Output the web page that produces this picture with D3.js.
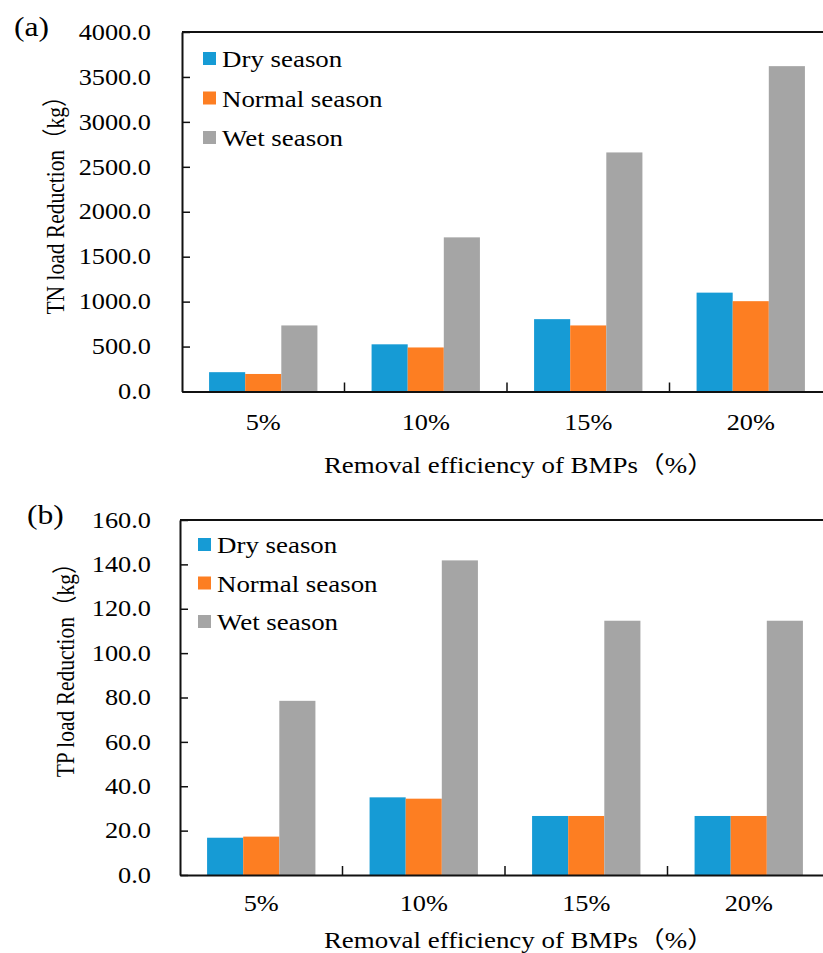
<!DOCTYPE html>
<html>
<head>
<meta charset="utf-8">
<script src="https://cdn.jsdelivr.net/npm/d3@7"></script>
<style>
  body { margin: 0; background: #fff; }
  text { font-family: "Liberation Serif", Tinos, "Times New Roman", Times, serif, "Noto Sans CJK SC"; fill: #000; }
</style>
</head>
<body>
<div id="chart"></div>
<script>
// data
var categories = ["5%", "10%", "15%", "20%"];
var seriesNames = ["Dry season", "Normal season", "Wet season"];
var seriesColors = ["#169BD5", "#FD7E22", "#A5A5A5"];

var tnDry = [215, 525, 805, 1100];
var tnNormal = [195, 490, 735, 1005];
var tnWet = [735, 1715, 2660, 3620];
var tnTicks = [0, 500, 1000, 1500, 2000, 2500, 3000, 3500, 4000];

var tpDry = [16.8, 35.0, 26.6, 26.6];
var tpNormal = [17.3, 34.4, 26.6, 26.6];
var tpWet = [78.5, 141.8, 114.6, 114.6];
var tpTicks = [0, 20, 40, 60, 80, 100, 120, 140, 160];

var svgWidth = 823;
var svgHeight = 953;
// the source figure is a bit wider than tall, so text is stretched sideways
var kx = 1.17;

var svg = d3.select("#chart").append("svg")
  .attr("width", svgWidth)
  .attr("height", svgHeight);

// helper: put a horizontally stretched text at x,y
function wideText(parent, x, y, size, str) {
  return parent.append("text")
    .attr("transform", `translate(${x},${y}) scale(${kx},1)`)
    .attr("font-size", size)
    .text(str);
}

function drawPanel(p) {
  var g = svg.append("g");

  var x = d3.scaleBand()
    .domain(categories)
    .range([p.left, p.left + 650]);

  var xInner = d3.scaleBand()
    .domain(seriesNames)
    .range([0, x.bandwidth()])
    .paddingInner(0)
    .paddingOuter(0.75);

  var y = d3.scaleLinear()
    .domain([0, p.max])
    .range([p.bottom, p.top]);

  // bars
  var rows = categories.map(function(c, i) {
    return { cat: c, vals: p.series.map(function(s) { return s[i]; }) };
  });

  g.selectAll("g.grp")
    .data(rows)
    .enter()
    .append("g")
    .attr("class", "grp")
    .attr("transform", d => `translate(${x(d.cat)},0)`)
    .selectAll("rect")
    .data(d => d.vals)
    .enter()
    .append("rect")
    .attr("x", (d, i) => xInner(seriesNames[i]))
    .attr("width", xInner.bandwidth())
    .attr("y", d => y(d))
    .attr("height", d => p.bottom - y(d))
    .attr("fill", (d, i) => seriesColors[i]);

  // top / right frame
  g.append("line")
    .attr("x1", p.left).attr("x2", p.left + 650)
    .attr("y1", p.top).attr("y2", p.top)
    .attr("stroke", "#111").attr("stroke-width", 2);
  g.append("line")
    .attr("x1", p.left + 650).attr("x2", p.left + 650)
    .attr("y1", p.top).attr("y2", p.bottom)
    .attr("stroke", "#111").attr("stroke-width", 2);

  // y axis, ticks pointing inward
  var leftAxis = d3.axisLeft(y)
    .tickValues(p.ticks)
    .tickFormat(d3.format(".1f"))
    .tickSizeInner(-8)
    .tickSizeOuter(0)
    .tickPadding((p.left - 151) / kx);

  var ya = g.append("g")
    .attr("transform", `translate(${p.left},0)`)
    .call(leftAxis);
  ya.select(".domain").attr("stroke", "#111").attr("stroke-width", 2);
  ya.selectAll(".tick line").attr("stroke", "#111").attr("stroke-width", 1.5);
  ya.selectAll(".tick text")
    .attr("transform", `scale(${kx},1)`)
    .attr("font-size", 22.5)
    .attr("fill", "#000");

  // x axis with category labels
  var bottomAxis = d3.axisBottom(x)
    .tickSize(0)
    .tickPadding(p.catPad);

  var xa = g.append("g")
    .attr("transform", `translate(0,${p.bottom})`)
    .call(bottomAxis);
  xa.select(".domain").attr("stroke", "#111").attr("stroke-width", 2);
  xa.selectAll(".tick text")
    .attr("transform", `scale(${kx},1)`)
    .attr("font-size", 22.5)
    .attr("fill", "#000");

  // separator ticks between categories
  g.selectAll("line.sep")
    .data(categories.slice(1))
    .enter()
    .append("line")
    .attr("class", "sep")
    .attr("x1", d => x(d)).attr("x2", d => x(d))
    .attr("y1", p.bottom).attr("y2", p.bottom - 9)
    .attr("stroke", "#111").attr("stroke-width", 1.5);

  // legend
  var legend = g.selectAll("g.leg")
    .data(seriesNames)
    .enter()
    .append("g")
    .attr("class", "leg")
    .attr("transform", (d, i) => `translate(${p.legX},${p.legY + i * p.legStep})`);

  legend.append("rect")
    .attr("x", 0).attr("y", -7)
    .attr("width", 13).attr("height", 13)
    .attr("fill", (d, i) => seriesColors[i]);

  legend.each(function(d) {
    wideText(d3.select(this), 19, 8, 23, d);
  });

  // panel letter
  wideText(g, p.letterX, p.letterY, 27, p.letter);

  // axis titles
  g.append("text")
    .attr("transform", `translate(${p.yTitleX},${p.yTitleY}) scale(${kx},1) rotate(-90)`)
    .attr("text-anchor", "middle")
    .attr("font-size", 21.5)
    .text(p.yTitle);

  wideText(g, 519, p.xTitleY, 23, "Removal efficiency of BMPs（%）")
    .attr("text-anchor", "middle");
}

drawPanel({
  left: 182, top: 32, bottom: 391.5, max: 4000,
  series: [tnDry, tnNormal, tnWet], ticks: tnTicks,
  catPad: 23,
  legX: 203, legY: 59, legStep: 39.5,
  letter: "(a)", letterX: 14, letterY: 36,
  yTitle: "TN load Reduction（kg）", yTitleX: 64, yTitleY: 200,
  xTitleY: 473
});

drawPanel({
  left: 180, top: 520, bottom: 875, max: 160,
  series: [tpDry, tpNormal, tpWet], ticks: tpTicks,
  catPad: 20,
  legX: 198, legY: 545, legStep: 38.5,
  letter: "(b)", letterX: 27, letterY: 524,
  yTitle: "TP load Reduction（kg）", yTitleX: 74, yTitleY: 665,
  xTitleY: 948
});
</script>
</body>
</html>
